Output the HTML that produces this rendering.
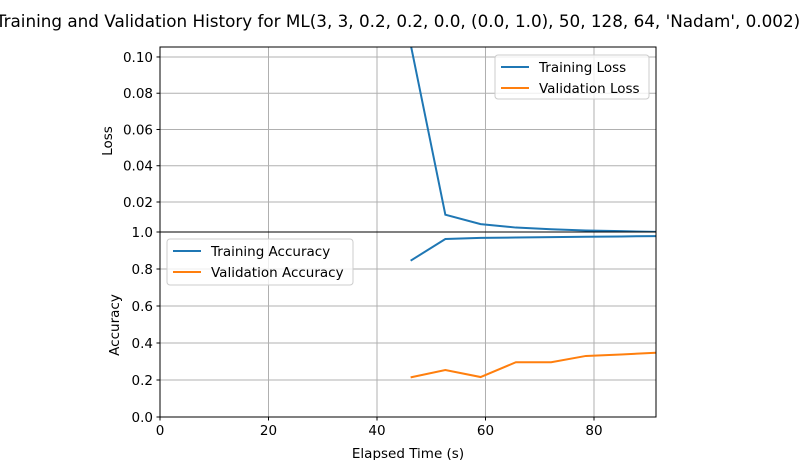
<!DOCTYPE html>
<html><head><meta charset="utf-8"><style>
body{margin:0;background:#fff;}
svg{font-family:"DejaVu Sans","Liberation Sans",sans-serif;}
</style></head><body>
<svg id="chart" width="799" height="460" xmlns="http://www.w3.org/2000/svg">
<defs>
<clipPath id="ct"><rect x="160" y="47" width="496" height="185"/></clipPath>
<clipPath id="cb"><rect x="160" y="232" width="496" height="185"/></clipPath>
</defs>
<text x="398" y="27" font-size="16.8" text-anchor="middle">Training and Validation History for ML(3, 3, 0.2, 0.2, 0.0, (0.0, 1.0), 50, 128, 64, 'Nadam', 0.002)</text>
<g id="grid"></g>
<g id="series"></g>
<g id="axes"></g>
</svg>
<script>
const times = [46.2, 52.6, 59.1, 65.6, 72.1, 78.5, 85.0, 91.4];
const trainLoss = [0.107, 0.0130, 0.0078, 0.0059, 0.0050, 0.0043, 0.0039, 0.0035];
const valLoss = [null, null, null, null, null, null, null, null];
const trainAcc = [0.845, 0.962, 0.968, 0.970, 0.972, 0.974, 0.976, 0.978];
const valAcc = [0.214, 0.254, 0.216, 0.296, 0.296, 0.330, 0.338, 0.347];
const xTicks = [0, 20, 40, 60, 80];
const lossTicks = [0.02, 0.04, 0.06, 0.08, 0.10];
const accTicks = [0.0, 0.2, 0.4, 0.6, 0.8, 1.0];

const NS = "http://www.w3.org/2000/svg";
const X0 = 160, X1 = 656, XMAX = 91.43;
const sx = v => X0 + v / XMAX * (X1 - X0);
const LT = 47, LB = 232, LMIN = 0.00345, LMAX = 0.1055;
const sl = v => LB - (v - LMIN) / (LMAX - LMIN) * (LB - LT);
const AT = 232, AB = 417;
const sa = v => AB - v * (AB - AT);

function mk(tag, attrs, parent) {
  const e = document.createElementNS(NS, tag);
  for (const k in attrs) e.setAttribute(k, attrs[k]);
  document.getElementById(parent).appendChild(e);
  return e;
}
xTicks.forEach(t => {
  const g = mk('line', {x1: sx(t), x2: sx(t), y1: 47, y2: 417, stroke: '#b0b0b0', 'stroke-width': 1}, 'grid');
  
  
});
lossTicks.forEach(t => {
  const g = mk('line', {x1: X0, x2: X1, y1: sl(t), y2: sl(t), stroke: '#b0b0b0', 'stroke-width': 1}, 'grid');
  
  
});
accTicks.forEach(t => {
  const g = mk('line', {x1: X0, x2: X1, y1: sa(t), y2: sa(t), stroke: '#b0b0b0', 'stroke-width': 1}, 'grid');
  
  
});
function line(vals, sy, color, clip, name) {
  const pts = [];
  vals.forEach((v, i) => { if (v !== null) pts.push(sx(times[i]).toFixed(2) + ',' + sy(v).toFixed(2)); });
  if (!pts.length) return;
  const p = mk('polyline', {points: pts.join(' '), fill: 'none', stroke: color, 'stroke-width': 2, 'clip-path': 'url(#' + clip + ')'}, 'series');
  
  
}
line(trainLoss, sl, '#1f77b4', 'ct', 'training-loss-line');
line(valLoss, sl, '#ff7f0e', 'ct', 'validation-loss-line');
line(trainAcc, sa, '#1f77b4', 'cb', 'training-accuracy-line');
line(valAcc, sa, '#ff7f0e', 'cb', 'validation-accuracy-line');
[[LT, LB, 'loss-axes-frame'], [AT, AB, 'accuracy-axes-frame']].forEach(([t, b, n]) => {
  const r = mk('rect', {x: X0, y: t, width: X1 - X0, height: b - t, fill: 'none', stroke: '#000', 'stroke-width': 1}, 'axes');
  
  
});
function txt(x, y, s, anchor, name, size) {
  const e = mk('text', {x: x, y: y, 'font-size': size || 13.5, 'text-anchor': anchor}, 'axes');
  e.textContent = s;
  
  
  return e;
}
lossTicks.forEach(t => {
  mk('line', {x1: X0 - 3.5, x2: X0, y1: sl(t), y2: sl(t), stroke: '#000', 'stroke-width': 1}, 'axes');
  txt(X0 - 7, sl(t) + 5, t.toFixed(2), 'end', 'loss-tick-label');
});
accTicks.forEach(t => {
  mk('line', {x1: X0 - 3.5, x2: X0, y1: sa(t), y2: sa(t), stroke: '#000', 'stroke-width': 1}, 'axes');
  txt(X0 - 7, sa(t) + 5, t.toFixed(1), 'end', 'accuracy-tick-label');
});
xTicks.forEach(t => {
  mk('line', {x1: sx(t), x2: sx(t), y1: AB, y2: AB + 3.5, stroke: '#000', 'stroke-width': 1}, 'axes');
  txt(sx(t), AB + 18, String(t), 'middle', 'x-tick-label');
});
txt(408, 458, 'Elapsed Time (s)', 'middle', 'x-axis-title');
const yl = txt(0, 0, 'Loss', 'middle', 'loss-axis-title');
yl.setAttribute('transform', 'translate(112,141) rotate(-90)');
const ya = txt(0, 0, 'Accuracy', 'middle', 'accuracy-axis-title');
ya.setAttribute('transform', 'translate(119,325) rotate(-90)');
function legend(x, y, w, h, items, name) {
  const r = mk('rect', {x: x, y: y, width: w, height: h, rx: 3, fill: '#fff', 'fill-opacity': 0.8, stroke: '#ccc', 'stroke-width': 1}, 'axes');
  
  
  items.forEach((it, i) => {
    const cy = y + 12 + i * 21;
    const l = mk('line', {x1: x + 6, x2: x + 34, y1: cy, y2: cy, stroke: it[1], 'stroke-width': 2}, 'axes');
    
    
    txt(x + 44, cy + 5, it[0], 'start', 'legend-entry');
  });
}
legend(495, 55, 154, 44, [['Training Loss', '#1f77b4'], ['Validation Loss', '#ff7f0e']], 'loss-legend');
legend(167, 239, 186, 46, [['Training Accuracy', '#1f77b4'], ['Validation Accuracy', '#ff7f0e']], 'accuracy-legend');
</script>
</body></html>
